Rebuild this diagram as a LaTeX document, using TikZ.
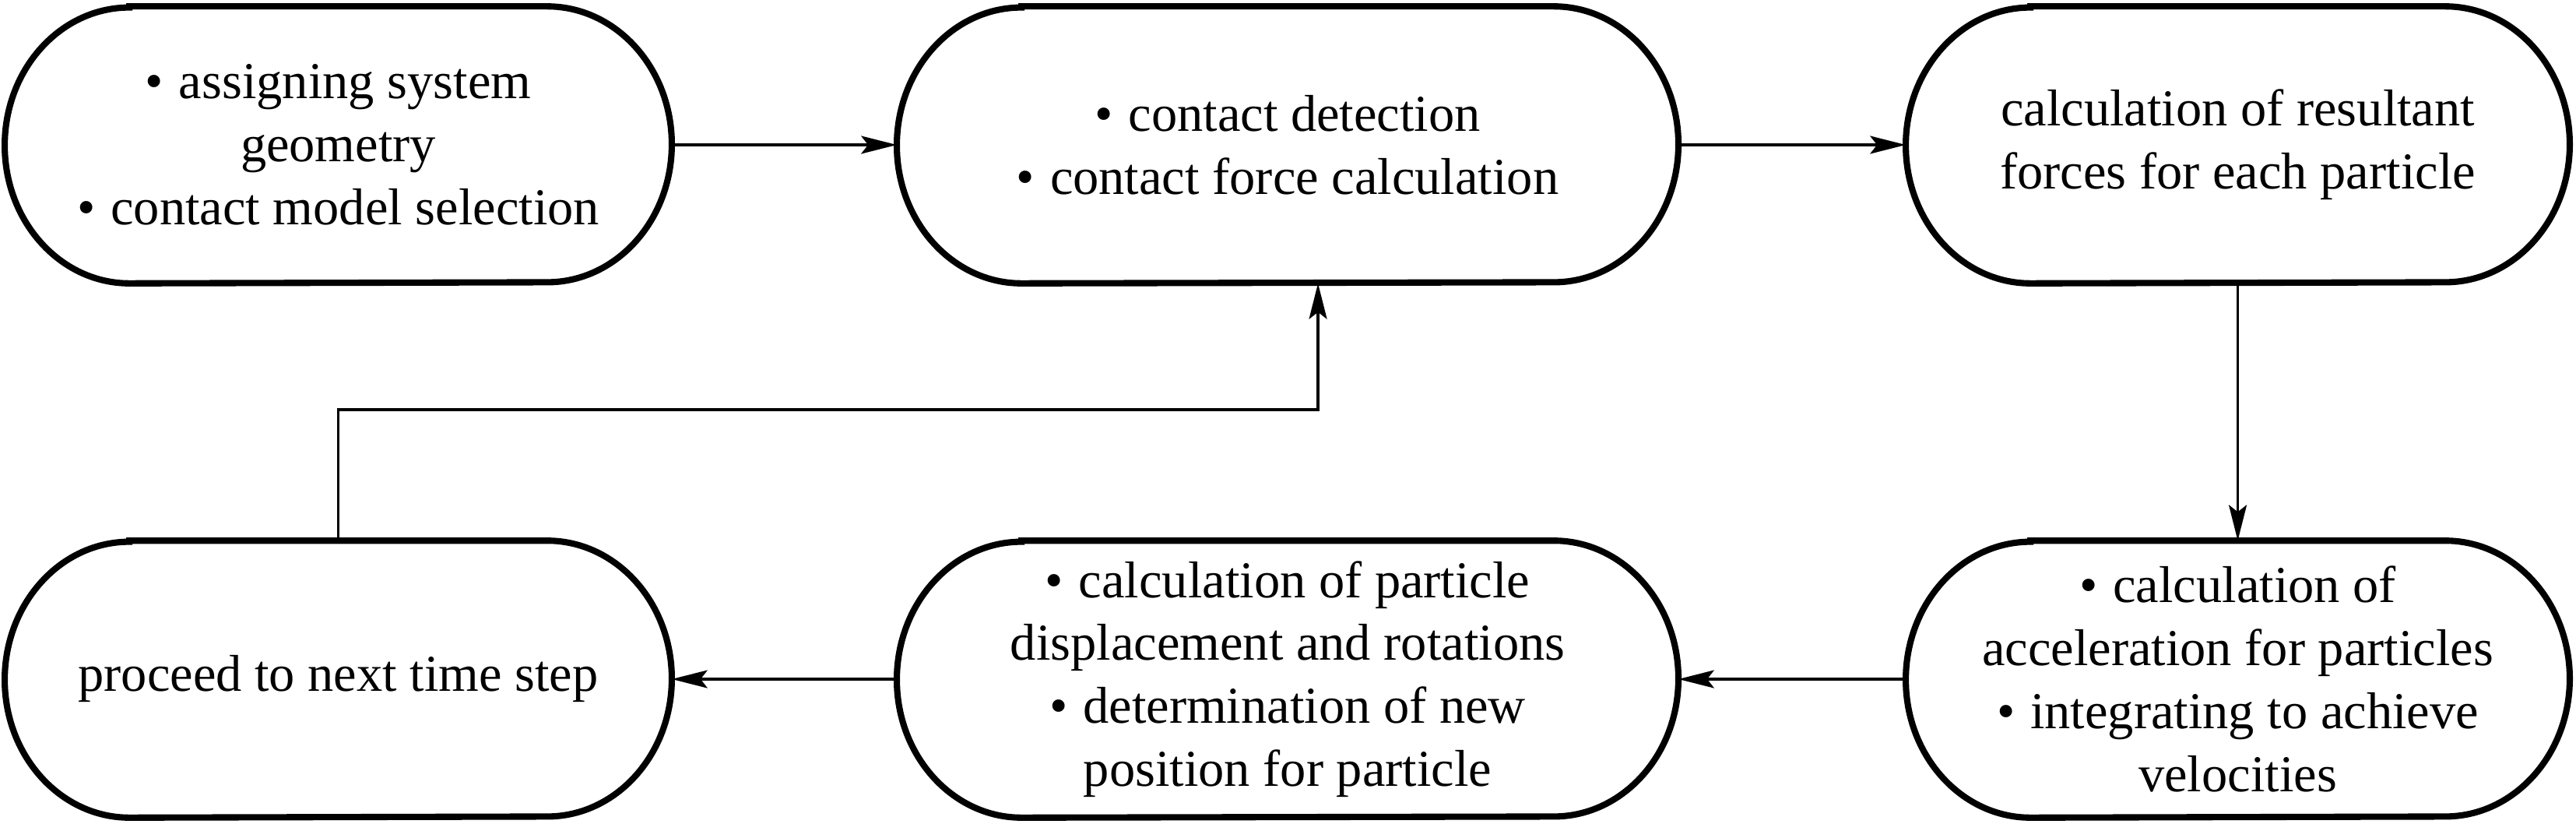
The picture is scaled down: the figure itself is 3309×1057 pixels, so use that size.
\documentclass[tikz,border=0pt]{standalone}
\usepackage{fontspec}
\setmainfont{Liberation Serif}
\usetikzlibrary{arrows.meta,calc}
\tikzset{
  proc/.style={draw=none, inner sep=0pt, minimum height=3.54cm, align=center,
    font=\fontsize{18.9pt}{23pt}\selectfont},
  boxline/.style={line width=2.3pt},
  conn/.style={line width=1.1pt, -{Stealth[length=13pt,width=6.5pt,inset=2.5pt]}}
}
\newcommand{\capsule}[1]{%
  \draw[boxline] ([xshift=1.6cm]#1.north west) -- ([xshift=-1.6cm]#1.north east)
    arc[start angle=90, end angle=-90, x radius=1.6cm, y radius=1.77cm]
    -- ([xshift=1.6cm]#1.south west)
    arc[start angle=270, end angle=90, x radius=1.6cm, y radius=1.77cm] -- cycle;}
\newcommand{\bul}{•\hspace{0.3em}}
\begin{document}
\begin{tikzpicture}[x=0.01cm,y=-0.01cm]
\useasboundingbox (0,0) rectangle (3309,1057);
\node[proc, minimum width=8.55cm] (b1) at (434.5,186) {\bul assigning system\\geometry\\\bul contact model selection};
\node[proc, minimum width=10.02cm] (b2) at (1654,186) {\bul contact detection\\\bul contact force calculation};
\node[proc, minimum width=8.51cm] (b3) at (2874.5,186) {calculation of resultant\\forces for each particle};
\node[proc, minimum width=8.55cm] (b4) at (434.5,872) {proceed to next time step};
\node[proc, minimum width=10.02cm] (b5) at (1654,872) {\bul calculation of particle\\displacement and rotations\\\bul determination of new\\position for particle};
\node[proc, minimum width=8.51cm] (b6) at (2874.5,872) {\bul calculation of\\acceleration for particles\\\bul integrating to achieve\\velocities};
\capsule{b1}\capsule{b2}\capsule{b3}\capsule{b4}\capsule{b5}\capsule{b6}
\draw[conn] (b1.east) -- (b2.west);
\draw[conn] (b2.east) -- (b3.west);
\draw[conn] (b3.south) -- (b6.north);
\draw[conn] (b6.west) -- (b5.east);
\draw[conn] (b5.west) -- (b4.east);
\draw[conn] (b4.north) -- (b4.north |- 0,526) -| ([xshift=0.39cm]b2.south);
\end{tikzpicture}
\end{document}
